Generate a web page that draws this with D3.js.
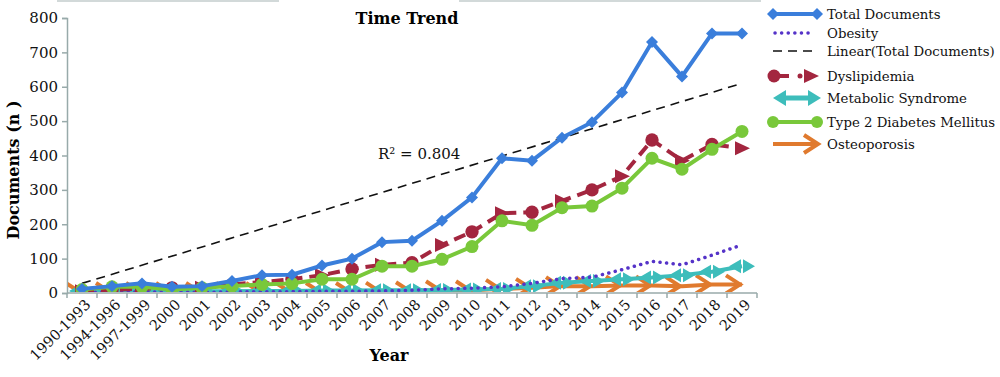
<!DOCTYPE html>
<html lang="en">
<head>
<meta charset="utf-8">
<title>Time Trend</title>
<script src="https://cdn.jsdelivr.net/npm/d3@7"></script>
<style>
  body { margin: 0; background: #fff; }
  text { font-family: "DejaVu Serif", "Liberation Serif", serif; }
</style>
</head>
<body>
<script>
// categories (x axis)
var years = ["1990-1993", "1994-1996", "1997-1999", "2000", "2001", "2002", "2003", "2004", "2005",
             "2006", "2007", "2008", "2009", "2010", "2011", "2012", "2013", "2014", "2015", "2016",
             "2017", "2018", "2019"];
// series values
var totalDocs    = [12, 20, 28, 18, 20, 35, 52, 53, 80, 100, 148, 152, 210, 278, 392, 385, 452, 497, 583, 730, 630, 755, 755];
var obesity      = [2, 3, 3, 2, 2, 3, 4, 4, 5, 5, 6, 8, 12, 14, 18, 28, 42, 46, 68, 92, 82, 110, 140];
var dyslipidemia = [5, 10, 12, 15, 15, 25, 32, 40, 52, 70, 82, 88, 140, 178, 232, 235, 268, 300, 340, 445, 385, 432, 421];
var metabolic    = [6, 6, 6, 5, 5, 5, 6, 6, 7, 7, 8, 8, 9, 10, 12, 20, 30, 35, 40, 45, 52, 62, 78];
var diabetes     = [10, 18, 18, 10, 15, 20, 25, 28, 40, 40, 78, 78, 98, 135, 210, 197, 248, 253, 305, 392, 360, 418, 470];
var osteoporosis = [3, 3, 3, 3, 3, 3, 3, 3, 3, 3, 4, 5, 8, 8, 12, 15, 20, 20, 22, 22, 20, 25, 25];
// linear trend of total documents (first and last category)
var trend = [28, 610];
var yTicks = [0, 100, 200, 300, 400, 500, 600, 700, 800];

var w = 1000, h = 377;
var pLeft = 67, pRight = 757, pTop = 18, pBottom = 293;

var svg = d3.select("body").append("svg")
            .attr("width", w)
            .attr("height", h);

var xScale = d3.scaleBand().domain(years).range([pLeft, pRight]);
var yScale = d3.scaleLinear().domain([0, 800]).range([pBottom, pTop]);
function cx(i) { return xScale(years[i]) + xScale.bandwidth() / 2; }

var axisColor = "#98aaaa";

// plot area clip, markers are cut at the x axis
svg.append("clipPath").attr("id", "plot")
   .append("rect").attr("x", pLeft + 1).attr("y", 0).attr("width", pRight - pLeft + 10).attr("height", pBottom - 1);

// top border pieces
svg.append("line").attr("x1", 57).attr("x2", 279).attr("y1", 1).attr("y2", 1)
   .attr("stroke", "#c3cccc").attr("stroke-width", 1.5);
svg.append("line").attr("x1", 459).attr("x2", 761).attr("y1", 1).attr("y2", 1)
   .attr("stroke", "#c3cccc").attr("stroke-width", 1.5);

// y axis
var yAxis = d3.axisLeft(yScale).tickValues(yTicks).tickSize(5).tickPadding(4);
var gy = svg.append("g").attr("transform", "translate(" + pLeft + ",0)").call(yAxis);
gy.select(".domain").attr("stroke", axisColor).attr("stroke-width", 1.5);
gy.selectAll(".tick line").attr("stroke", axisColor).attr("stroke-width", 1.5);
gy.selectAll(".tick text").attr("font-family", "DejaVu Serif").attr("font-size", 15).attr("fill", "#111");

// x axis (ticks at band edges)
svg.append("line").attr("x1", pLeft).attr("x2", pRight).attr("y1", pBottom).attr("y2", pBottom)
   .attr("stroke", axisColor).attr("stroke-width", 1.5);
svg.selectAll("line.xtick")
   .data(years.concat(["end"]))
   .enter().append("line")
   .attr("class", "xtick")
   .attr("x1", function(d, i) { return pLeft + i * xScale.bandwidth(); })
   .attr("x2", function(d, i) { return pLeft + i * xScale.bandwidth(); })
   .attr("y1", pBottom).attr("y2", pBottom + 5)
   .attr("stroke", axisColor).attr("stroke-width", 1.5);
svg.selectAll("text.xlab")
   .data(years)
   .enter().append("text")
   .attr("class", "xlab")
   .attr("transform", function(d, i) { return "translate(" + (cx(i) + 6) + "," + (pBottom + 9) + ") rotate(-45)"; })
   .attr("text-anchor", "end")
   .attr("dy", "0.35em")
   .attr("font-size", 14.5)
   .attr("fill", "#111")
   .text(function(d) { return d; });

// axis titles
svg.append("text")
   .attr("transform", "translate(19,170) rotate(-90)")
   .attr("text-anchor", "middle")
   .attr("font-size", 16).attr("font-weight", "bold")
   .text("Documents (n )");
svg.append("text")
   .attr("x", 389).attr("y", 361)
   .attr("text-anchor", "middle")
   .attr("font-size", 16).attr("font-weight", "bold")
   .text("Year");
svg.append("text")
   .attr("x", 407).attr("y", 24)
   .attr("text-anchor", "middle")
   .attr("font-size", 16).attr("font-weight", "bold")
   .text("Time Trend");

var line = d3.line()
             .x(function(d, i) { return cx(i); })
             .y(function(d) { return yScale(d); });

// colours
var cBlue = "#3a7edb", cPurple = "#5533c8", cRed = "#a3263f", cTeal = "#3dbdbb", cGreen = "#79c83a", cOrange = "#e07a2e";

// marker shapes
function diamond(s) { return "M0," + (-s) + "L" + s + ",0L0," + s + "L" + (-s) + ",0Z"; }
var triRight = "M-7,-7L8,0L-7,7Z";
var arrowHead = "M-14,-9L0,0L-14,9";
var teal2 = "M-1,-7L-13,0L-1,7Z M1,-7L13,0L1,7Z";

var plot = svg.append("g").attr("clip-path", "url(#plot)");

// osteoporosis
plot.append("path").datum(osteoporosis).attr("d", line)
   .attr("fill", "none").attr("stroke", cOrange).attr("stroke-width", 4);
plot.selectAll("path.ost").data(osteoporosis).enter().append("path")
   .attr("class", "ost")
   .attr("transform", function(d, i) { return "translate(" + (cx(i) - 2) + "," + yScale(d) + ")"; })
   .attr("d", arrowHead)
   .attr("fill", "none").attr("stroke", cOrange).attr("stroke-width", 4).attr("stroke-linejoin", "miter");

// metabolic syndrome
plot.append("path").datum(metabolic).attr("d", line)
   .attr("fill", "none").attr("stroke", cTeal).attr("stroke-width", 4);
plot.selectAll("path.met").data(metabolic).enter().append("path")
   .attr("class", "met")
   .attr("transform", function(d, i) { return "translate(" + cx(i) + "," + yScale(d) + ")"; })
   .attr("d", teal2)
   .attr("fill", cTeal);

// obesity
plot.append("path").datum(obesity).attr("d", line)
   .attr("fill", "none").attr("stroke", cPurple).attr("stroke-width", 3.5)
   .attr("stroke-dasharray", "0.1,6.5").attr("stroke-linecap", "round");

// trend line
plot.append("line")
   .attr("x1", cx(0)).attr("y1", yScale(trend[0]))
   .attr("x2", cx(years.length - 1)).attr("y2", yScale(trend[1]))
   .attr("stroke", "#111").attr("stroke-width", 1.6).attr("stroke-dasharray", "9,6");
svg.append("text")
   .attr("x", xScale("2007") + 11).attr("y", yScale(400) + 3)
   .attr("font-size", 15).attr("fill", "#111")
   .text("R² = 0.804");

// dyslipidemia
plot.append("path").datum(dyslipidemia).attr("d", line)
   .attr("fill", "none").attr("stroke", cRed).attr("stroke-width", 4).attr("stroke-dasharray", "12,7");
plot.selectAll("path.dys").data(dyslipidemia).enter().append("path")
   .attr("class", "dys")
   .attr("transform", function(d, i) { return "translate(" + cx(i) + "," + yScale(d) + ")"; })
   .attr("d", function(d, i) { return i % 2 ? d3.symbol(d3.symbolCircle, 140)() : triRight; })
   .attr("fill", cRed);

// type 2 diabetes
plot.append("path").datum(diabetes).attr("d", line)
   .attr("fill", "none").attr("stroke", cGreen).attr("stroke-width", 4);
plot.selectAll("circle.dia").data(diabetes).enter().append("circle")
   .attr("class", "dia")
   .attr("cx", function(d, i) { return cx(i); })
   .attr("cy", function(d) { return yScale(d); })
   .attr("r", 6.5).attr("fill", cGreen);

// total documents
plot.append("path").datum(totalDocs).attr("d", line)
   .attr("fill", "none").attr("stroke", cBlue).attr("stroke-width", 4);
plot.selectAll("path.tot").data(totalDocs).enter().append("path")
   .attr("class", "tot")
   .attr("transform", function(d, i) { return "translate(" + cx(i) + "," + yScale(d) + ")"; })
   .attr("d", diamond(6))
   .attr("fill", cBlue);

// legend
var lx0 = 773, lx1 = 817, tx = 827;
var legend = [
  {name: "Total Documents", y: 14},
  {name: "Obesity", y: 33},
  {name: "Linear(Total Documents)", y: 51},
  {name: "Dyslipidemia", y: 76},
  {name: "Metabolic Syndrome", y: 98},
  {name: "Type 2 Diabetes Mellitus", y: 122},
  {name: "Osteoporosis", y: 144}
];
var lg = svg.append("g");
lg.selectAll("text").data(legend).enter().append("text")
  .attr("x", tx).attr("y", function(d) { return d.y; })
  .attr("dy", "0.35em")
  .attr("font-size", 13.3).attr("fill", "#111")
  .text(function(d) { return d.name; });

lg.append("line").attr("x1", lx0).attr("x2", lx1).attr("y1", 14).attr("y2", 14).attr("stroke", cBlue).attr("stroke-width", 4);
lg.append("path").attr("transform", "translate(" + lx0 + ",14)").attr("d", diamond(6)).attr("fill", cBlue);
lg.append("path").attr("transform", "translate(" + lx1 + ",14)").attr("d", diamond(6)).attr("fill", cBlue);

lg.append("line").attr("x1", lx0 + 2).attr("x2", lx1 - 6).attr("y1", 33).attr("y2", 33)
  .attr("stroke", cPurple).attr("stroke-width", 3.5).attr("stroke-dasharray", "0.1,6.5").attr("stroke-linecap", "round");

lg.append("line").attr("x1", lx0).attr("x2", lx1 - 3).attr("y1", 51).attr("y2", 51)
  .attr("stroke", "#111").attr("stroke-width", 1.6).attr("stroke-dasharray", "9,6");

lg.append("line").attr("x1", lx0).attr("x2", lx0 + 16).attr("y1", 76).attr("y2", 76).attr("stroke", cRed).attr("stroke-width", 4);
lg.append("circle").attr("cx", lx0 + 1).attr("cy", 76).attr("r", 6.5).attr("fill", cRed);
lg.append("circle").attr("cx", lx0 + 27).attr("cy", 76).attr("r", 2.5).attr("fill", cRed);
lg.append("path").attr("transform", "translate(" + (lx1 - 6) + ",76)").attr("d", triRight).attr("fill", cRed);

lg.append("line").attr("x1", lx0 + 8).attr("x2", lx1 - 8).attr("y1", 98).attr("y2", 98).attr("stroke", cTeal).attr("stroke-width", 5);
lg.append("path").attr("d", "M" + lx0 + ",98L" + (lx0 + 13) + ",90L" + (lx0 + 13) + ",106Z").attr("fill", cTeal);
lg.append("path").attr("d", "M" + (lx1 + 4) + ",98L" + (lx1 - 9) + ",90L" + (lx1 - 9) + ",106Z").attr("fill", cTeal);

lg.append("line").attr("x1", lx0).attr("x2", lx1).attr("y1", 122).attr("y2", 122).attr("stroke", cGreen).attr("stroke-width", 4);
lg.append("circle").attr("cx", lx0).attr("cy", 122).attr("r", 6).attr("fill", cGreen);
lg.append("circle").attr("cx", lx1).attr("cy", 122).attr("r", 6).attr("fill", cGreen);

lg.append("line").attr("x1", lx0).attr("x2", lx1 - 2).attr("y1", 144).attr("y2", 144).attr("stroke", cOrange).attr("stroke-width", 4);
lg.append("path").attr("transform", "translate(" + (lx1 + 1) + ",144)").attr("d", arrowHead)
  .attr("fill", "none").attr("stroke", cOrange).attr("stroke-width", 4);
</script>
</body>
</html>
